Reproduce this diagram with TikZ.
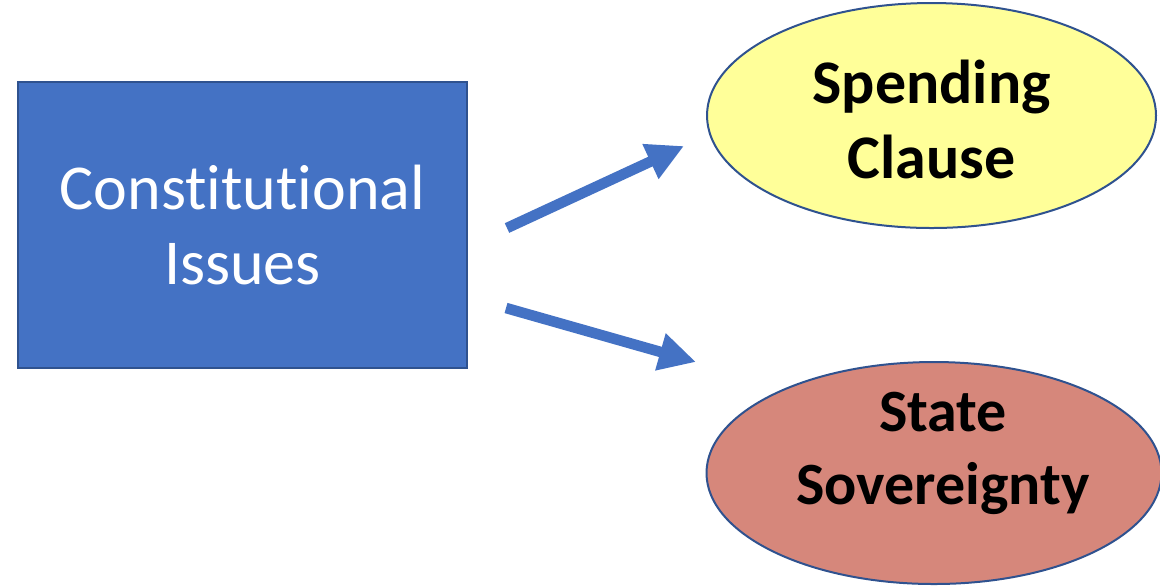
\documentclass[tikz,border=0pt]{standalone}
\usepackage{fontspec}
\setmainfont{Carlito}[Ligatures=NoCommon]
\usepackage{tikz}
\usetikzlibrary{arrows.meta,positioning,shapes.geometric}

\definecolor{boxblue}{RGB}{68,114,196}
\definecolor{edgeblue}{RGB}{47,82,143}
\definecolor{lightyel}{RGB}{255,255,153}
\definecolor{salmon}{RGB}{214,135,123}

\begin{document}
\begin{tikzpicture}[x=0.5pt,y=-0.5pt]
\tikzset{
  oval/.style={draw=edgeblue,line width=1pt,ellipse,inner sep=0pt},
  lbl/.style={align=center,font=\fontsize{31}{37.5}\selectfont\bfseries},
  bigarrow/.style={draw=boxblue,line width=5.3pt,-{Triangle[length=18.5pt,width=18pt]}}
}
\useasboundingbox (0,0) rectangle (1160,586);
\node[draw=edgeblue,line width=1pt,fill=boxblue,minimum width=224.5pt,minimum height=143pt,inner sep=0pt,
  text=white,align=center,font=\fontsize{32}{37.5}\selectfont] (ci) at (242.5,225) {Constitutional\\Issues};
\node[oval,fill=lightyel,minimum width=224.5pt,minimum height=112.5pt] (sc) at (931.5,115.5) {};
\node[lbl] (sctxt) at (931.5,119) {Spending\\Clause};
\node[oval,fill=salmon,minimum width=227.5pt,minimum height=111pt] (ss) at (934,473) {};
\node[lbl,font=\fontsize{30}{36.5}\selectfont\bfseries] (sstxt) at (943,453) {State\\Sovereignty};
\coordinate (a1) at (507,228); \coordinate (b1) at (684,146);
\coordinate (a2) at (506,308); \coordinate (b2) at (696,362);
\draw[bigarrow] (a1)--(b1); \draw[bigarrow] (a2)--(b2);
\end{tikzpicture}
\end{document}
